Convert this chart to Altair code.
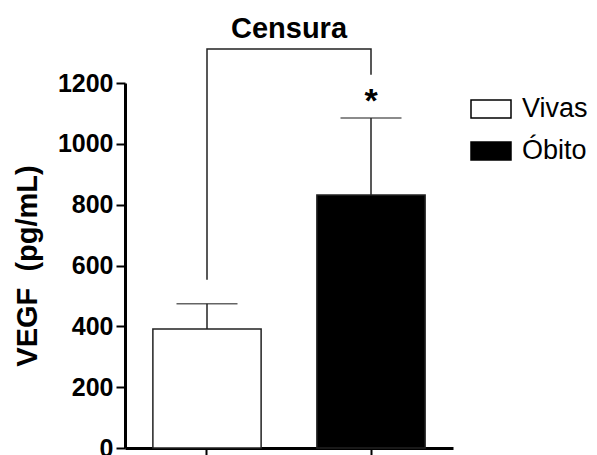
import altair as alt
import pandas as pd

# Data
groups = ["Vivas", "Óbito"]
means = [391, 832]
sems = [83, 253]
fills = ["white", "black"]

# significance bracket (group, value, order)
bracket_groups = ["Vivas", "Vivas", "Óbito", "Óbito"]
bracket_values = [553, 1312, 1312, 1227]
sig_groups = ["Óbito"]
sig_labels = ["*"]

FONT = "Liberation Sans"

df = pd.DataFrame({"group": groups, "mean": means, "sem": sems})
df["upper"] = df["mean"] + df["sem"]
br = pd.DataFrame({"group": bracket_groups, "v": bracket_values,
                   "o": list(range(len(bracket_groups)))})
sig = pd.DataFrame({"group": sig_groups, "label": sig_labels})
sig = sig.merge(df[["group", "upper"]], on="group")

xenc = alt.X("group:N", sort=groups,
             scale=alt.Scale(paddingInner=0.34, paddingOuter=0.17),
             axis=alt.Axis(labels=False, title=None, domainColor="black",
                           domainWidth=3, tickColor="black", tickWidth=2,
                           tickSize=8, grid=False))
yscale = alt.Scale(domain=[0, 1200], nice=False)

bars = alt.Chart(df).mark_bar(stroke="#222", strokeWidth=1.5).encode(
    x=xenc,
    y=alt.Y("mean:Q", scale=yscale,
            axis=alt.Axis(values=[0, 200, 400, 600, 800, 1000, 1200],
                          format="d",
                          title="VEGF\u00a0\u00a0(pg/mL)", titleFont=FONT,
                          titleFontSize=29, titleFontWeight="bold",
                          titleColor="black", titlePadding=15,
                          labelFont=FONT, labelFontSize=25,
                          labelFontWeight="bold", labelColor="black",
                          labelPadding=3, domainColor="black",
                          domainWidth=3, tickColor="black", tickWidth=2,
                          tickSize=9, grid=False)),
    fill=alt.Fill("group:N", sort=groups,
                  scale=alt.Scale(domain=groups, range=fills),
                  legend=alt.Legend(title=None, orient="none",
                                    legendX=345, legendY=5,
                                    symbolType="M-1,-0.45L1,-0.45L1,0.45L-1,0.45Z",
                                    symbolSize=1600, symbolStrokeColor="black",
                                    symbolStrokeWidth=1.5,
                                    labelFont=FONT, labelFontSize=27,
                                    labelColor="black", labelOffset=10,
                                    rowPadding=8)),
)

err = alt.Chart(df).mark_rule(color="#222", strokeWidth=1.5).encode(
    x=alt.X("group:N", sort=groups), y="mean:Q", y2="upper:Q")
caps = alt.Chart(df).mark_tick(color="#222", thickness=1.5, size=61,
                               orient="horizontal").encode(
    x=alt.X("group:N", sort=groups), y="upper:Q")
bracket = alt.Chart(br).mark_line(color="#222", strokeWidth=1.5).encode(
    x=alt.X("group:N", sort=groups), y="v:Q", order="o:Q")
star = alt.Chart(sig).mark_text(font=FONT, fontSize=34, fontWeight="bold",
                                color="black", baseline="middle", dy=-16).encode(
    x=alt.X("group:N", sort=groups), y="upper:Q", text="label:N")

chart = alt.layer(bars, err, caps, bracket, star).properties(
    width=328, height=365,
    autosize=alt.AutoSizeParams(type="none"),
    padding={"left": 125, "top": 83, "right": 144, "bottom": 7},
    title=alt.TitleParams("Censura", font=FONT, fontSize=29,
                          fontWeight="bold", color="black",
                          anchor="middle", offset=2),
).configure_view(stroke=None)

chart.save("out.html", embed_options={"renderer": "svg", "actions": False})
